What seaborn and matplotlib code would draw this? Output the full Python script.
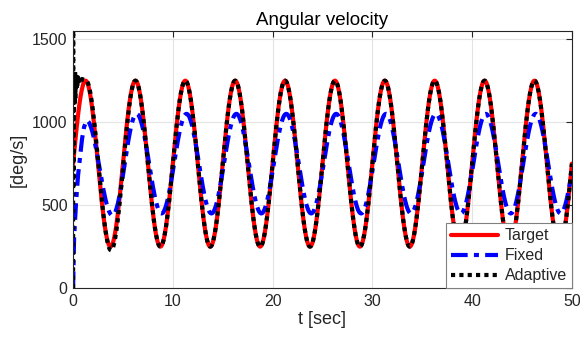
import numpy as np
import pandas as pd
import matplotlib
matplotlib.use("Agg")
import matplotlib.pyplot as plt
import seaborn as sns

title = "Angular velocity"
x_label = "t [sec]"
y_label = "[deg/s]"
x_ticks = [0, 10, 20, 30, 40, 50]
y_ticks = [0, 500, 1000, 1500]
series_names = ["Target", "Fixed", "Adaptive"]

# Target: extrema (time [s], value [deg/s])
target_ext_t = [-1.25, 1.25, 3.75, 6.25, 8.75, 11.25, 13.75, 16.25, 18.75, 21.25, 23.75,
                26.25, 28.75, 31.25, 33.75, 36.25, 38.75, 41.25, 43.75, 46.25, 48.75, 51.25]
target_ext_v = [250, 1250, 250, 1250, 250, 1250, 250, 1250, 250, 1250, 250,
                1250, 250, 1250, 250, 1250, 250, 1250, 250, 1250, 250, 1250]

# Fixed: initial rise, then extrema
fixed_init_t = [0.0, 0.1, 0.3, 0.5, 0.7, 0.9, 1.1]
fixed_init_v = [0, 300, 520, 680, 790, 900, 970]
fixed_ext_t = [1.35, 3.95, 6.37, 8.87, 11.37, 13.87, 16.37, 18.87, 21.37, 23.87, 26.37,
               28.87, 31.37, 33.87, 36.37, 38.87, 41.37, 43.87, 46.37, 48.87, 51.37]
fixed_ext_v = [1010, 438, 1050, 450, 1050, 450, 1050, 450, 1050, 450, 1050,
               450, 1050, 450, 1050, 450, 1050, 450, 1050, 450, 1050]

# Adaptive: initial transient, then extrema
adapt_init_t = [0.0, 0.01, 0.03, 0.05, 0.08, 0.11, 0.15, 0.2, 0.25, 0.3, 0.4,
                0.5, 0.6, 0.7, 0.8, 0.9, 1.1]
adapt_init_v = [0, 1550, 600, 1300, 950, 1300, 1100, 1310, 1150, 1290, 1200,
                1270, 1230, 1265, 1245, 1260, 1255]
adapt_ext_t = [1.3, 3.8, 6.25, 8.75, 11.25, 13.75, 16.25, 18.75, 21.25, 23.75,
               26.25, 28.75, 31.25, 33.75, 36.25, 38.75, 41.25, 43.75, 46.25, 48.75, 51.25]
adapt_ext_v = [1250, 228, 1250, 250, 1250, 250, 1250, 250, 1250, 250,
               1250, 250, 1250, 250, 1250, 250, 1250, 250, 1250, 250, 1250]


def build(init_t, init_v, ext_t, ext_v, n=40):
    ts = [np.asarray(init_t, float)]
    vs = [np.asarray(init_v, float)]
    for i in range(len(ext_t) - 1):
        s = np.linspace(0, 1, n, endpoint=False)
        ts.append(ext_t[i] + (ext_t[i + 1] - ext_t[i]) * s)
        vs.append(ext_v[i] + (ext_v[i + 1] - ext_v[i]) * (1 - np.cos(np.pi * s)) / 2)
    ts.append(np.array([ext_t[-1]]))
    vs.append(np.array([ext_v[-1]]))
    t = np.concatenate(ts)
    v = np.concatenate(vs)
    m = (t >= 0) & (t <= 50)
    return t[m], v[m]


frames = []
for name, args in zip(series_names, [([], [], target_ext_t, target_ext_v),
                                     (fixed_init_t, fixed_init_v, fixed_ext_t, fixed_ext_v),
                                     (adapt_init_t, adapt_init_v, adapt_ext_t, adapt_ext_v)]):
    t, v = build(*args)
    frames.append(pd.DataFrame({"t": t, "v": v, "series": name}))
df = pd.concat(frames, ignore_index=True)

sns.set_theme(style="whitegrid")
plt.rcParams["font.family"] = ["Liberation Sans", "DejaVu Sans"]
plt.rcParams["axes.edgecolor"] = "#262626"
plt.rcParams["grid.color"] = "#e3e3e3"
plt.rcParams["grid.linewidth"] = 0.8

fig = plt.figure(figsize=(5.8, 3.43), dpi=100)
ax = fig.add_axes([0.126, 0.160, 0.860, 0.750])

styles = {
    "Target": dict(color="#ff0000", lw=3.0),
    "Fixed": dict(color="#0000ff", dashes=(4, 1.5, 1.2, 1.5), lw=3.0),
    "Adaptive": dict(color="black", dashes=(1, 1), lw=3.0),
}
for name in series_names:
    sub = df[df["series"] == name]
    st = styles[name]
    sns.lineplot(data=sub, x="t", y="v", ax=ax, sort=False, estimator=None,
                 color=st["color"], lw=st["lw"], label=name)
    ln = ax.lines[-1]
    if "dashes" in st:
        ln.set_dashes(st["dashes"])
        ln.set_dash_capstyle("butt")

ax.set_xlim(0, 50)
ax.set_ylim(0, 1550)
ax.set_xticks(x_ticks)
ax.set_yticks(y_ticks)
ax.tick_params(direction="in", top=True, right=True, length=4, width=0.8,
               labelsize=11.5, colors="#262626", pad=4)
for sp in ax.spines.values():
    sp.set_color("#262626")
    sp.set_linewidth(0.8)
ax.grid(True)
ax.set_title(title, fontsize=13.5, color="black", pad=4)
ax.set_xlabel(x_label, fontsize=13, color="#262626", labelpad=2)
ax.set_ylabel(y_label, fontsize=13, color="#262626", labelpad=4)

leg = ax.legend(loc="lower right", borderaxespad=0, fancybox=False, framealpha=1,
                edgecolor="#808080", fontsize=11.5, handlelength=3.0, labelspacing=0.32,
                borderpad=0.3, handletextpad=0.4)
leg.get_frame().set_linewidth(0.8)

fig.savefig("out.png", dpi=100)
